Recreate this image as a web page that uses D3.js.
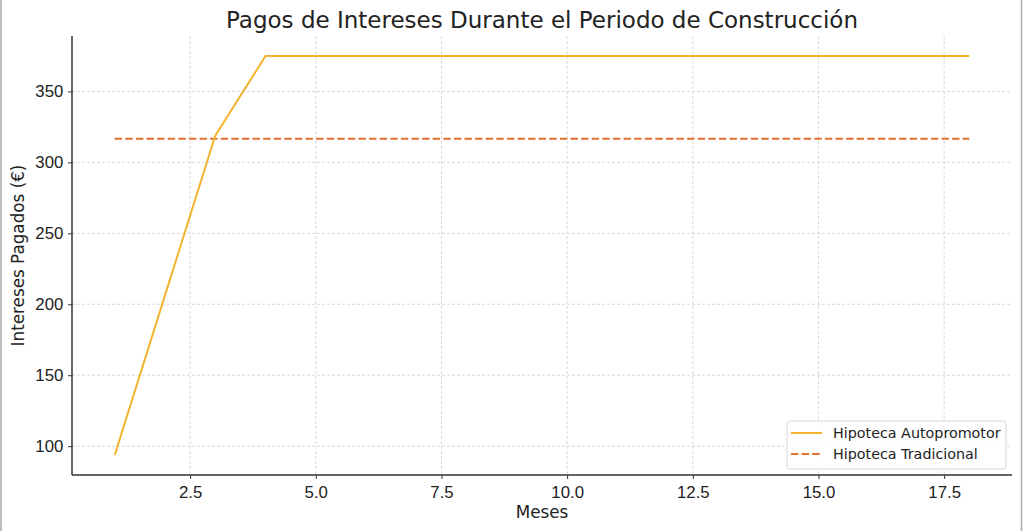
<!DOCTYPE html>
<html>
<head>
<meta charset="utf-8">
<script src="https://cdn.jsdelivr.net/npm/d3@7"></script>
<style>
  body { margin: 0; background: #fff; }
  svg { font-family: "DejaVu Sans", sans-serif; }
</style>
</head>
<body>
<div id="chart"></div>
<script>
// datos
var meses = [1, 2, 3, 4, 5, 6, 7, 8, 9, 10, 11, 12, 13, 14, 15, 16, 17, 18];
var autopromotor = [93.75, 206.25, 318.75, 375, 375, 375, 375, 375, 375, 375, 375, 375, 375, 375, 375, 375, 375, 375];
var tradicional = [316.67, 316.67, 316.67, 316.67, 316.67, 316.67, 316.67, 316.67, 316.67, 316.67, 316.67, 316.67, 316.67, 316.67, 316.67, 316.67, 316.67, 316.67];
var xTicks = [2.5, 5.0, 7.5, 10.0, 12.5, 15.0, 17.5];
var yTicks = [100, 150, 200, 250, 300, 350];

var W = 1024, H = 531;
var margin = { top: 36, right: 12, bottom: 56, left: 72 };
var width = W - margin.left - margin.right;
var height = H - margin.top - margin.bottom;

var svg = d3.select("#chart").append("svg")
    .attr("width", W)
    .attr("height", H);

// marco de la imagen
svg.append("line").attr("x1", 1).attr("x2", 1).attr("y1", 0).attr("y2", H)
    .attr("stroke", "#aaa").attr("stroke-width", 1.5);
svg.append("line").attr("x1", 1021.5).attr("x2", 1021.5).attr("y1", 0).attr("y2", H)
    .attr("stroke", "#aaa").attr("stroke-width", 1.5);

var g = svg.append("g")
    .attr("transform", "translate(" + margin.left + "," + margin.top + ")");

var x = d3.scaleLinear().domain([0.15, 18.85]).range([0, width]);
var yMin = 93.75, yMax = 375, pad = (yMax - yMin) * 0.05;
var y = d3.scaleLinear().domain([yMin - pad, yMax + pad]).range([height, 0]);

// rejilla
g.append("g").selectAll("line").data(xTicks).enter().append("line")
    .attr("x1", d => x(d)).attr("x2", d => x(d))
    .attr("y1", 0).attr("y2", height)
    .attr("stroke", "#cfcfcf").attr("stroke-width", 0.8)
    .attr("stroke-dasharray", "3,2");
g.append("g").selectAll("line").data(yTicks).enter().append("line")
    .attr("x1", 0).attr("x2", width)
    .attr("y1", d => y(d)).attr("y2", d => y(d))
    .attr("stroke", "#cfcfcf").attr("stroke-width", 0.8)
    .attr("stroke-dasharray", "3,2");

// ejes
var xAxis = d3.axisBottom(x).tickValues(xTicks).tickFormat(d3.format(".1f"))
    .tickSize(4).tickSizeOuter(0);
var xg = g.append("g")
    .attr("transform", "translate(0," + height + ")")
    .call(xAxis);
xg.select(".domain").remove();
xg.selectAll("text").style("font-size", "16.8px").attr("fill", "#222").attr("dy", "0.95em");
xg.selectAll("line").attr("stroke", "#333");

var yAxis = d3.axisLeft(y).tickValues(yTicks).tickSize(4).tickSizeOuter(0);
var yg = g.append("g").call(yAxis);
yg.select(".domain").remove();
yg.selectAll("text").style("font-size", "16.8px").attr("fill", "#222").attr("dx", "-0.1em");
yg.selectAll("line").attr("stroke", "#333");

g.append("line").attr("x1", 0).attr("x2", width).attr("y1", height).attr("y2", height)
    .attr("stroke", "#333").attr("stroke-width", 1.5);
g.append("line").attr("x1", 0).attr("x2", 0).attr("y1", 0).attr("y2", height)
    .attr("stroke", "#333").attr("stroke-width", 1.5);

// lineas
var linea = d3.line().x((d, i) => x(meses[i])).y(d => y(d));

g.append("path").datum(tradicional)
    .attr("fill", "none")
    .attr("stroke", "#e4702f")
    .attr("stroke-width", 2)
    .attr("stroke-dasharray", "7.4,3.2")
    .attr("d", linea);

g.append("path").datum(autopromotor)
    .attr("fill", "none")
    .attr("stroke", "#f2b42e")
    .attr("stroke-width", 2)
    .attr("d", linea);

// titulos
svg.append("text")
    .attr("x", margin.left + width / 2)
    .attr("y", 28)
    .attr("text-anchor", "middle")
    .style("font-size", "23px")
    .attr("fill", "#222")
    .text("Pagos de Intereses Durante el Periodo de Construcción");

svg.append("text")
    .attr("x", margin.left + width / 2)
    .attr("y", 518)
    .attr("text-anchor", "middle")
    .style("font-size", "16.8px")
    .attr("fill", "#222")
    .text("Meses");

svg.append("text")
    .attr("transform", "rotate(-90)")
    .attr("x", -(margin.top + height / 2))
    .attr("y", 24)
    .attr("text-anchor", "middle")
    .style("font-size", "16.8px")
    .attr("fill", "#222")
    .text("Intereses Pagados (€)");

// leyenda
var leg = g.append("g").attr("transform", "translate(" + (787 - margin.left) + "," + (421 - margin.top) + ")");
leg.append("rect")
    .attr("width", 219).attr("height", 48)
    .attr("rx", 3)
    .attr("fill", "#fff").attr("fill-opacity", 0.85)
    .attr("stroke", "#d6d6d6");
var items = [
    { name: "Hipoteca Autopromotor", color: "#f2b42e", dash: null },
    { name: "Hipoteca Tradicional", color: "#e4702f", dash: "7.4,3.2" }
];
items.forEach(function (it, i) {
    var yy = 12 + i * 21;
    leg.append("line")
        .attr("x1", 4).attr("x2", 35).attr("y1", yy).attr("y2", yy)
        .attr("stroke", it.color).attr("stroke-width", 2)
        .attr("stroke-dasharray", it.dash);
    leg.append("text")
        .attr("x", 46).attr("y", yy + 5)
        .style("font-size", "14.3px")
        .attr("fill", "#222")
        .text(it.name);
});
</script>
</body>
</html>
